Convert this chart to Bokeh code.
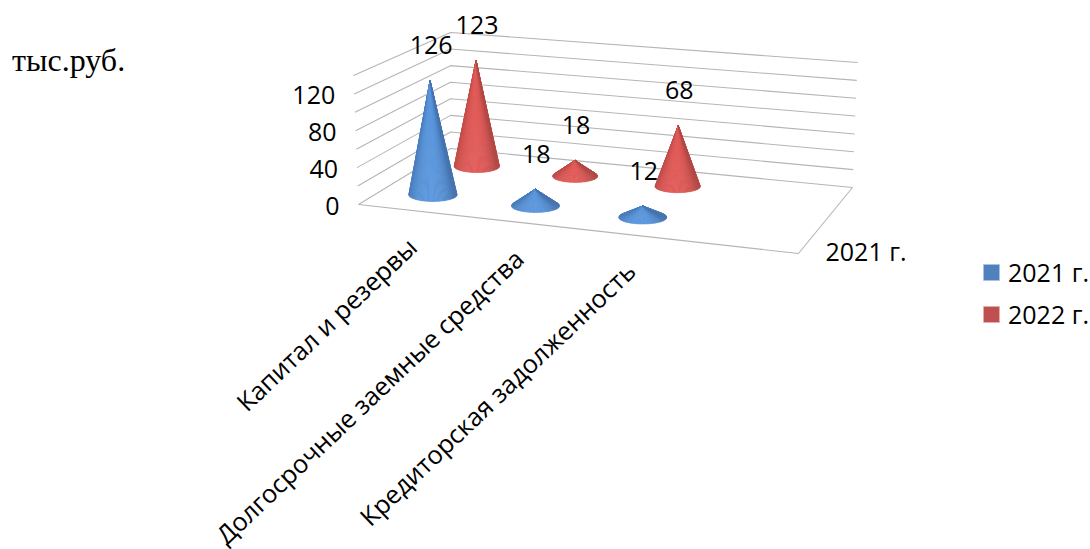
import numpy as np
from bokeh.plotting import figure
from bokeh.models import Range1d, Legend, LegendItem
from bokeh.core.properties import value
from bokeh.embed import file_html
from bokeh.resources import INLINE

categories = ["Капитал и резервы", "Долгосрочные заемные средства", "Кредиторская задолженность"]
series_names = ["2021 г.", "2022 г."]
values_2021 = [126, 18, 12]
values_2022 = [123, 18, 68]
y_ticks = [0, 40, 80, 120]
y_lines = [0, 20, 40, 60, 80, 100, 120, 140]
y_max = 140
unit_label = "тыс.руб."
depth_label = "2021 г."

W, H = 1090, 549
FONT = "Open Sans"
FS = "25px"
FS_CAT = "25.4px"
GRID = "#b5b5b5"
BLUE_BASE, RED_BASE = "#4f81bd", "#c0504d"
N_SLOTS, N_DEPTH = 4, 2  # the source chart has one empty category slot


def homography(src, dst):
    A, b = [], []
    for (x, y), (X, Y) in zip(src, dst):
        A.append([x, y, 1, 0, 0, 0, -x * X, -y * X]); b.append(X)
        A.append([0, 0, 0, x, y, 1, -x * Y, -y * Y]); b.append(Y)
    return np.append(np.linalg.solve(np.array(A, float), np.array(b, float)), 1).reshape(3, 3)


unit = [(0, 0), (N_SLOTS, 0), (N_SLOTS, N_DEPTH), (0, N_DEPTH)]
FLOOR = homography(unit, [(358, 204), (798, 253), (852, 187), (450, 148)])
TOP = homography(unit, [(353, 75), (803, 114), (857, 62), (450, 32)])


def project(u, v, h):
    a = FLOOR @ [u, v, 1]
    b = TOP @ [u, v, 1]
    a, b = a[:2] / a[2], b[:2] / b[2]
    return a + (b - a) * (h / y_max)


def shade(base_hi, base_lo, s):
    k = np.clip(abs(s + 0.1) ** 2.6, 0, 1)
    c = np.array(base_hi) + (np.array(base_lo) - np.array(base_hi)) * k
    return "#%02x%02x%02x" % tuple(int(round(x)) for x in c)


p = figure(width=W, height=H, x_range=Range1d(0, W), y_range=Range1d(H, 0),
           output_backend="svg", toolbar_location=None, min_border=0, outline_line_color=None)
p.xaxis.visible = False
p.yaxis.visible = False
p.xgrid.visible = False
p.ygrid.visible = False
p.background_fill_color = "white"
p.border_fill_color = "white"

# walls and floor
xs, ys = [], []
for t in y_lines:
    a, b, c = project(0, 0, t), project(0, N_DEPTH, t), project(N_SLOTS, N_DEPTH, t)
    xs.append([a[0], b[0], c[0]]); ys.append([a[1], b[1], c[1]])
a, b, c = project(0, 0, 0), project(N_SLOTS, 0, 0), project(N_SLOTS, N_DEPTH, 0)
xs.append([a[0], b[0], c[0]]); ys.append([a[1], b[1], c[1]])
p.multi_line(xs, ys, line_color=GRID, line_width=1.1)


def cone(u, v, val, hi, lo):
    cx, cy = project(u, v, 0)
    ax, ay = project(u, v, val)
    rx = 24 - 1.5 * (v - 0.5)
    ry = 0.28 * rx
    h = cy - ay
    t0 = np.arcsin(-ry / h) if h > ry else -np.pi / 2
    ts = np.linspace(np.pi - t0, t0, 61)
    px = cx + rx * np.cos(ts)
    py = cy + ry * np.sin(ts)
    fx, fy, col = [], [], []
    for i in range(len(ts) - 1):
        fx.append([ax, px[i], px[i + 1]])
        fy.append([ay, py[i], py[i + 1]])
        s = (0.5 * (px[i] + px[i + 1]) - cx) / rx
        col.append(shade(hi, lo, s))
    p.patches(fx, fy, fill_color=col, line_color=col, line_width=0.6)
    return ax, ay


BLUE_HI, BLUE_LO = (90, 150, 220), (68, 116, 176)
RED_HI, RED_LO = (224, 90, 88), (180, 72, 68)

lab_x, lab_y, lab_t = [], [], []
for v, vals, hi, lo in [(1.5, values_2022, RED_HI, RED_LO), (0.5, values_2021, BLUE_HI, BLUE_LO)]:
    for i, val in enumerate(vals):
        ax, ay = cone(i + 0.5, v, val, hi, lo)
        lab_x.append(ax + 1); lab_y.append(ay - 35.5); lab_t.append(str(val))

txt = dict(text_font=value(FONT), text_font_size=FS, text_color="#000000")
p.text(lab_x, lab_y, text=lab_t, text_align="center", text_baseline="middle", **txt)

# value axis labels
tx = [project(0, 0, t)[0] - 19 for t in y_ticks]
ty = [project(0, 0, t)[1] + 1.5 for t in y_ticks]
p.text(tx, ty, text=[str(t) for t in y_ticks], text_align="right", text_baseline="middle", **txt)

# category labels
cx = [project(i + 0.5, 0, 0)[0] + 3 + 2 * i for i in range(len(categories))]
cy = [project(i + 0.5, 0, 0)[1] + 32 for i in range(len(categories))]
p.text(cx, cy, text=categories, angle=np.radians(43.6), text_align="right", text_baseline="middle",
       text_font=value(FONT), text_font_size=FS_CAT, text_color="#000000")

# depth axis label
fr = project(N_SLOTS, 0, 0)
p.text([fr[0] + 27], [fr[1] - 3], text=[depth_label], text_align="left", text_baseline="middle", **txt)

# unit caption
p.text([11.5], [59], text=[unit_label], text_align="left", text_baseline="middle",
       text_font=value("Liberation Serif"), text_font_size="32px", text_color="#000000")

# legend
nan = float("nan")
r1 = p.quad(left=[nan], right=[nan], top=[nan], bottom=[nan], fill_color=BLUE_BASE, line_color="#a9c2e0", line_width=0.6)
r2 = p.quad(left=[nan], right=[nan], top=[nan], bottom=[nan], fill_color=RED_BASE, line_color="#e0aeac", line_width=0.6)
legend = Legend(items=[LegendItem(label=series_names[0], renderers=[r1]),
                       LegendItem(label=series_names[1], renderers=[r2])],
                location=(981, 218), orientation="vertical",
                glyph_width=20, glyph_height=20, spacing=8, padding=0, margin=0,
                label_standoff=7, label_text_font=FONT, label_text_font_size=FS,
                label_text_color="#000000", label_height=16,
                background_fill_alpha=0, border_line_color=None)
p.add_layout(legend, "center")

open("out.html", "w").write(file_html(p, INLINE))
